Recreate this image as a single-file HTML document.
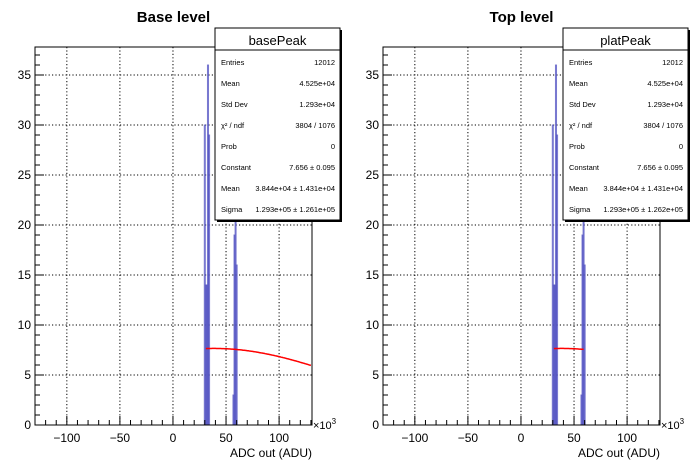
<!DOCTYPE html>
<html><head><meta charset="utf-8"><style>
body{margin:0;background:#fff;font-family:"Liberation Sans",sans-serif;}
svg{display:block}
</style></head><body>
<svg id="c" width="698" height="475" xmlns="http://www.w3.org/2000/svg"></svg>
<script>
const xTicks=[-100,-50,0,50,100];
const yTicks=[0,5,10,15,20,25,30,35];
const binsBase=[30,31,32,33,34,57,58,59,60];
const countsBase=[30,14,14,36,29,3,19,30,16];
const binsTop=[30,31,32,33,34,57,58,59,60];
const countsTop=[30,14,14,36,29,3,19,30,16];
const titles=["Base level","Top level"];
const statNames=["basePeak","platPeak"];
const statLabels=["Entries","Mean","Std Dev","χ² / ndf","Prob","Constant","Mean","Sigma"];
const statValues=[
 ["12012","4.525e+04","1.293e+04","3804 / 1076","0","7.656 ± 0.095","3.844e+04 ± 1.431e+04","1.293e+05 ± 1.261e+05"],
 ["12012","4.525e+04","1.293e+04","3804 / 1076","0","7.656 ± 0.095","3.844e+04 ± 1.431e+04","1.293e+05 ± 1.262e+05"]];
const fitConst=7.656, fitMean=38.44, fitSigma=129.3;
const fitRanges=[[31,130],[31,59]];
const NS="http://www.w3.org/2000/svg";
const svg=document.getElementById('c');
function el(t,a,p){const e=document.createElementNS(NS,t);for(const k in a)e.setAttribute(k,a[k]);(p||svg).appendChild(e);return e;}
function panel(i,bins,counts){
 const off=i*348;
 const L=35+off,R=312+off,T=47,B=425;
 const xmin=-130,xmax=131,ymax=37.8;
 const X=v=>L+(v-xmin)/(xmax-xmin)*(R-L);
 const Y=v=>B-v/ymax*(B-T);
 const g=el('g',{});
 
 
 const t=el('text',{x:(L+R)/2,y:22,'text-anchor':'middle','font-size':15,'font-weight':'bold'},g);
 t.textContent=titles[i];
 
 xTicks.forEach(v=>{const l=el('line',{x1:X(v),x2:X(v),y1:T,y2:B,stroke:'#000','stroke-dasharray':'1.2,2.2','stroke-width':1},g);});
 yTicks.forEach(v=>{if(v===0)return;const l=el('line',{x1:L,x2:R,y1:Y(v),y2:Y(v),stroke:'#000','stroke-dasharray':'1.2,2.2','stroke-width':1},g);});
 bins.forEach((b,k)=>{const r=el('rect',{x:X(b-0.5),y:Y(counts[k]),width:Math.max(1,X(b+0.5)-X(b-0.5)),height:B-Y(counts[k]),fill:'#6a6ad0','fill-opacity':0.55,stroke:'#5050c0','stroke-opacity':0.7,'stroke-width':1},g);
  });
 let d='';const [a,b]=fitRanges[i];
 for(let x=a;x<=b;x+=1){const y=fitConst*Math.exp(-0.5*((x-fitMean)/fitSigma)**2);d+=(d?'L':'M')+X(x).toFixed(1)+','+Y(y).toFixed(1);}
 const f=el('path',{d:d,fill:'none',stroke:'#f00','stroke-width':1.5},g);
 
 const fr=el('rect',{x:L,y:T,width:R-L,height:B-T,fill:'none',stroke:'#000','stroke-width':1},g);
 
 for(let v=-130;v<=130;v+=10){const maj=v%50===0;el('line',{x1:X(v),x2:X(v),y1:B,y2:B-(maj?9:5),stroke:'#000'},g);}
 xTicks.forEach(v=>{const tx=el('text',{x:X(v),y:B+17,'text-anchor':'middle','font-size':12},g);tx.textContent=v<0?'\u2212'+(-v):String(v);});
 for(let v=0;v<=37;v+=1){const maj=v%5===0;el('line',{x1:L,x2:L+(maj?9:5),y1:Y(v),y2:Y(v),stroke:'#000'},g);}
 yTicks.forEach(v=>{const tx=el('text',{x:L-4,y:Y(v)+4,'text-anchor':'end','font-size':12},g);tx.textContent=v;});
 const ex=el('text',{x:R+1,y:B+4,'font-size':11},g);ex.innerHTML='×10<tspan dy="-5" font-size="8">3</tspan>';
 
 const xl=el('text',{x:R,y:B+32,'text-anchor':'end','font-size':12},g);xl.textContent='ADC out (ADU)';
 
 const sx=215+off,sy=28,sw=125,sh=192;
 const sb=el('g',{},g);
 el('rect',{x:sx+2,y:sy+2,width:sw,height:sh,fill:'#000'},sb);
 el('rect',{x:sx,y:sy,width:sw,height:sh,fill:'#fff',stroke:'#000'},sb);
 el('line',{x1:sx,x2:sx+sw,y1:sy+22,y2:sy+22,stroke:'#000'},sb);
 const st=el('text',{x:sx+sw/2,y:sy+17,'text-anchor':'middle','font-size':13},sb);st.textContent=statNames[i];
 
 statLabels.forEach((lab,k)=>{const yy=sy+37+k*21;
  const a1=el('text',{x:sx+6,y:yy,'font-size':7.5},sb);a1.textContent=lab;
  const a2=el('text',{x:sx+sw-5,y:yy,'text-anchor':'end','font-size':7.5},sb);a2.textContent=statValues[i][k];});
}
panel(0,binsBase,countsBase);
panel(1,binsTop,countsTop);
</script>
</body></html>
